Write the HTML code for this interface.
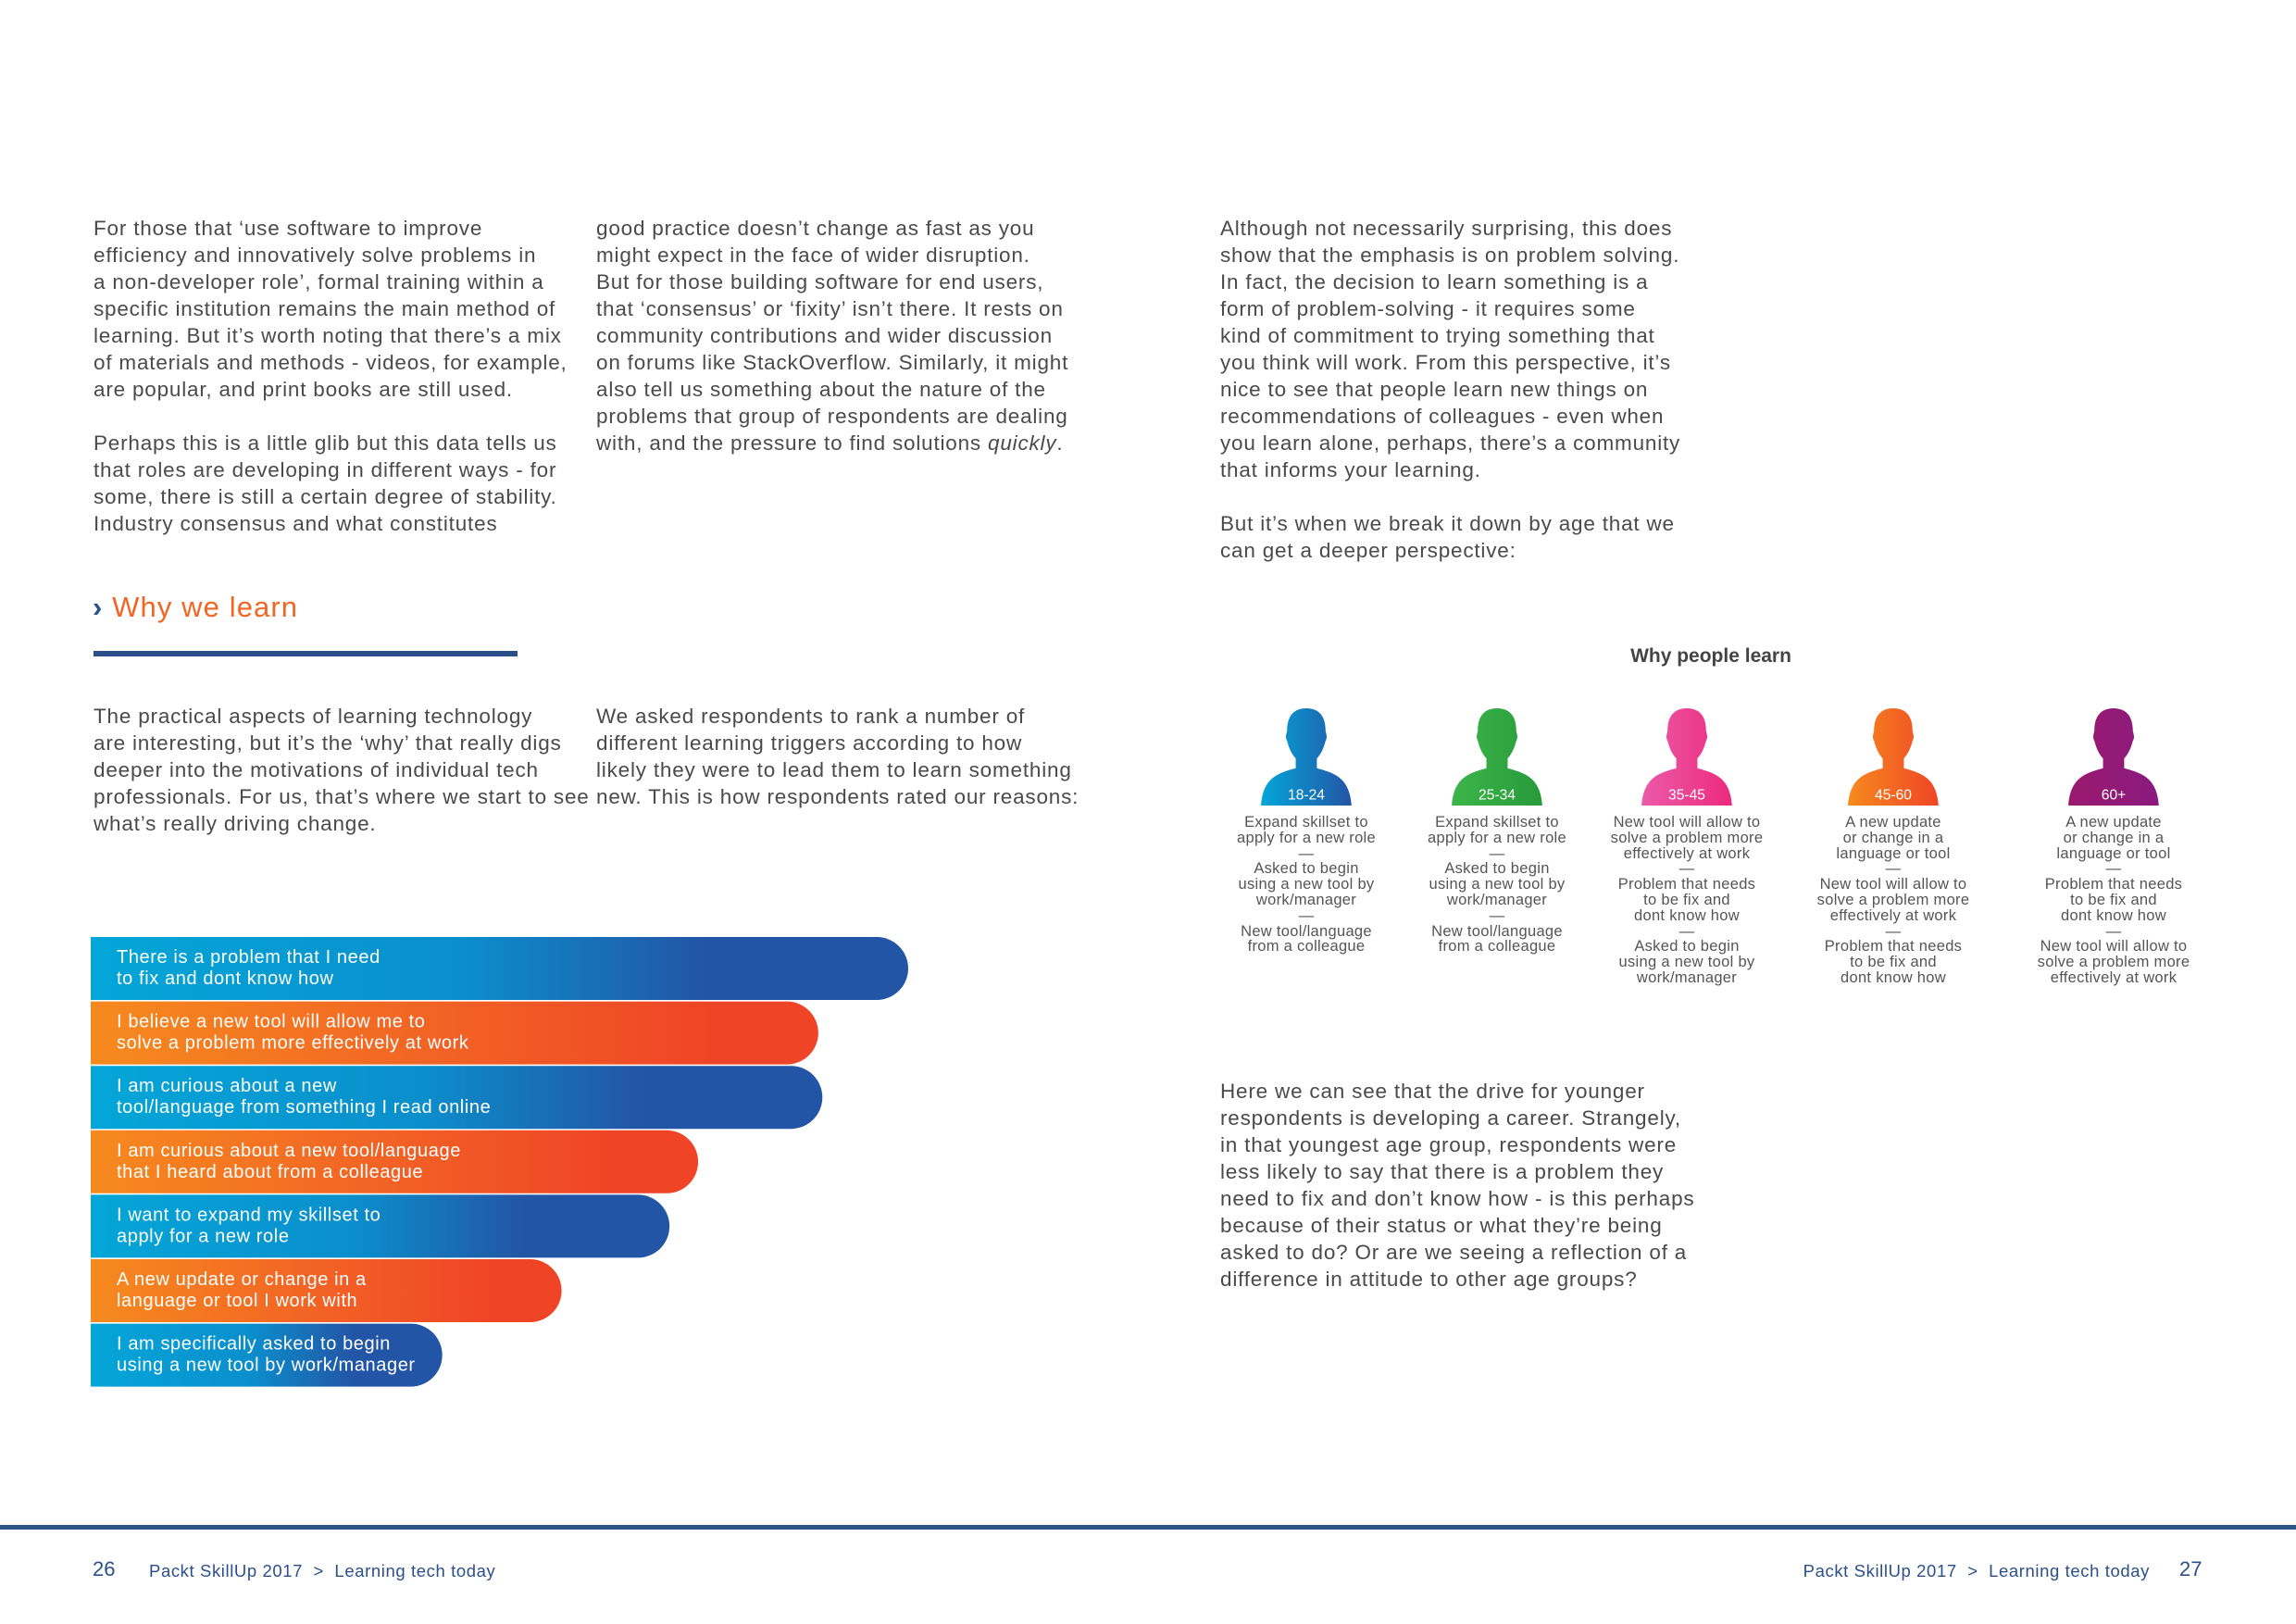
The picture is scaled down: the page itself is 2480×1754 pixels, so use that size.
<!DOCTYPE html>
<html><head><meta charset="utf-8">
<style>
body{margin:0;width:2480px;height:1754px;background:#fff;position:relative;overflow:hidden;font-family:"Liberation Sans",sans-serif;color:#4a4a4a}
.t{position:absolute;font-size:22.5px;line-height:29px;white-space:nowrap;letter-spacing:0.8px}
.head{position:absolute;text-align:center;font-size:16.5px;line-height:16.8px;color:#555;width:220px;letter-spacing:0.3px}
</style></head><body>
<div class="t" style="left:101px;top:232px">For those that ‘use software to improve<br>efficiency and innovatively solve problems in<br>a non-developer role’, formal training within a<br>specific institution remains the main method of<br>learning. But it’s worth noting that there’s a mix<br>of materials and methods - videos, for example,<br>are popular, and print books are still used.<br><br>Perhaps this is a little glib but this data tells us<br>that roles are developing in different ways - for<br>some, there is still a certain degree of stability.<br>Industry consensus and what constitutes</div>
<div class="t" style="left:644px;top:232px">good practice doesn’t change as fast as you<br>might expect in the face of wider disruption.<br>But for those building software for end users,<br>that ‘consensus’ or ‘fixity’ isn’t there. It rests on<br>community contributions and wider discussion<br>on forums like StackOverflow. Similarly, it might<br>also tell us something about the nature of the<br>problems that group of respondents are dealing<br>with, and the pressure to find solutions <i>quickly</i>.</div>
<div class="t" style="left:1318px;top:232px">Although not necessarily surprising, this does<br>show that the emphasis is on problem solving.<br>In fact, the decision to learn something is a<br>form of problem-solving - it requires some<br>kind of commitment to trying something that<br>you think will work. From this perspective, it’s<br>nice to see that people learn new things on<br>recommendations of colleagues - even when<br>you learn alone, perhaps, there’s a community<br>that informs your learning.<br><br>But it’s when we break it down by age that we<br>can get a deeper perspective:</div>
<div style="position:absolute;left:100px;top:638px;font-size:31px;letter-spacing:1.1px;color:#f26522;white-space:nowrap"><span style="color:#2b4f8a;font-weight:bold">›</span> Why we learn</div>
<div style="position:absolute;left:101px;top:703px;width:458px;height:6px;background:#2b4f8a"></div>
<div class="t" style="left:101px;top:759px">The practical aspects of learning technology<br>are interesting, but it’s the ‘why’ that really digs<br>deeper into the motivations of individual tech<br>professionals. For us, that’s where we start to see<br>what’s really driving change.</div>
<div class="t" style="left:644px;top:759px">We asked respondents to rank a number of<br>different learning triggers according to how<br>likely they were to lead them to learn something<br>new. This is how respondents rated our reasons:</div>
<div class="t" style="left:1318px;top:1164px">Here we can see that the drive for younger<br>respondents is developing a career. Strangely,<br>in that youngest age group, respondents were<br>less likely to say that there is a problem they<br>need to fix and don’t know how - is this perhaps<br>because of their status or what they’re being<br>asked to do? Or are we seeing a reflection of a<br>difference in attitude to other age groups?</div>

<svg id="bars" style="position:absolute;left:0;top:0" width="1100" height="1520">
<defs>
<linearGradient id="gb" x1="0" x2="1"><stop offset="0" stop-color="#04a6d8"/><stop offset="0.45" stop-color="#0b8fcc"/><stop offset="0.75" stop-color="#2355a6"/><stop offset="1" stop-color="#2355a6"/></linearGradient>
<linearGradient id="go" x1="0" x2="1"><stop offset="0" stop-color="#f68a1e"/><stop offset="0.5" stop-color="#f26125"/><stop offset="0.85" stop-color="#ef4526"/><stop offset="1" stop-color="#ef4526"/></linearGradient>
</defs>
</svg>
<div style="position:absolute;left:1648px;top:697px;width:400px;text-align:center;font-weight:bold;font-size:21px;color:#444">Why people learn</div>
<div id="heads"></div>

<div style="position:absolute;left:0;top:1647px;width:2480px;height:5px;background:#2e5589"></div>
<div style="position:absolute;left:100px;top:1682px;font-size:22px;color:#2b4f8a">26</div>
<div style="position:absolute;left:161px;top:1686px;font-size:18.5px;letter-spacing:0.6px;color:#2b4f8a;white-space:nowrap">Packt SkillUp 2017 &nbsp;&gt;&nbsp; Learning tech today</div>
<div style="position:absolute;right:158px;top:1686px;font-size:18.5px;letter-spacing:0.6px;color:#2b4f8a;white-space:nowrap">Packt SkillUp 2017 &nbsp;&gt;&nbsp; Learning tech today</div>
<div style="position:absolute;left:2354px;top:1682px;font-size:22px;color:#2b4f8a">27</div>

<script>
const reasons=[["There is a problem that I need","to fix and dont know how"],["I believe a new tool will allow me to","solve a problem more effectively at work"],["I am curious about a new","tool/language from something I read online"],["I am curious about a new tool/language","that I heard about from a colleague"],["I want to expand my skillset to","apply for a new role"],["A new update or change in a","language or tool I work with"],["I am specifically asked to begin","using a new tool by work/manager"]];
const scores=[100,89,89.5,74.3,70.8,57.6,43];
const ageGroups=["18-24","25-34","35-45","45-60","60+"];
const ageReasons=[["Expand skillset to|apply for a new role","Asked to begin|using a new tool by|work/manager","New tool/language|from a colleague"],["Expand skillset to|apply for a new role","Asked to begin|using a new tool by|work/manager","New tool/language|from a colleague"],["New tool will allow to|solve a problem more|effectively at work","Problem that needs|to be fix and|dont know how","Asked to begin|using a new tool by|work/manager"],["A new update|or change in a|language or tool","New tool will allow to|solve a problem more|effectively at work","Problem that needs|to be fix and|dont know how"],["A new update|or change in a|language or tool","Problem that needs|to be fix and|dont know how","New tool will allow to|solve a problem more|effectively at work"]];
const NS="http://www.w3.org/2000/svg";
const svg=document.getElementById('bars');
const x0=98,xs=v=>v/100*883,yTop=1012,step=69.6,bh=68;
scores.forEach((v,i)=>{
 const y=yTop+i*step,w=xs(v),r=34;
 const p=document.createElementNS(NS,'path');
 p.setAttribute('d',`M${x0} ${y}H${x0+w-r}A${r} ${r} 0 0 1 ${x0+w} ${y+r}A${r} ${r} 0 0 1 ${x0+w-r} ${y+bh}H${x0}Z`);
 p.setAttribute('fill',i%2?'url(#go)':'url(#gb)');
 
 
 svg.appendChild(p);
 reasons[i].forEach((l,j)=>{
  const t=document.createElementNS(NS,'text');
  t.setAttribute('x',x0+28);t.setAttribute('y',y+28+j*23);
  t.setAttribute('fill','#fff');t.setAttribute('font-size','20');
  t.setAttribute('letter-spacing','0.6');
  t.setAttribute('font-family','Liberation Sans, sans-serif');
  t.textContent=l;
  
  
  svg.appendChild(t);
 });
});
const cx=[1411,1617,1822,2045,2283];
const grads=[["#04a6d8","#2355a6"],["#3db54a","#279a3a"],["#ec5aa8","#ec2a7e"],["#f68a1e","#ef4526"],["#9a1a6e","#8a1a80"]];
const hc=document.getElementById('heads');
ageGroups.forEach((g,i)=>{
 const d=document.createElement('div');
 
 
 d.style.cssText=`position:absolute;left:${cx[i]-110}px;top:764px;width:220px;text-align:center`;
 d.innerHTML=`<svg width="104" height="106" viewBox="0 0 100 100" preserveAspectRatio="none" style="display:block;margin:0 auto"><defs><linearGradient id="h${i}" x1="0" x2="1"><stop offset="0" stop-color="${grads[i][0]}"/><stop offset="1" stop-color="${grads[i][1]}"/></linearGradient></defs><path d="M50 1C64 1 70 10 70 24C71 28 72 31 70 34C68 42 65 48 61 52L61 62C80 67 95 72 97 100L3 100C5 72 20 67 39 62L39 52C35 48 32 42 30 34C28 31 29 28 30 24C30 10 36 1 50 1Z" fill="url(#h${i})"/><text x="50" y="94" text-anchor="middle" fill="#fff" font-size="15" font-family="Liberation Sans, sans-serif">${g}</text></svg>`;
 const tx=document.createElement('div');
 tx.className='head';tx.style.position='static';tx.style.marginTop='10px';
 tx.innerHTML=ageReasons[i].map(s=>s.split('|').join('<br>')).join('<br>—<br>');
 d.appendChild(tx);
 hc.appendChild(d);
});
</script>
</body></html>
